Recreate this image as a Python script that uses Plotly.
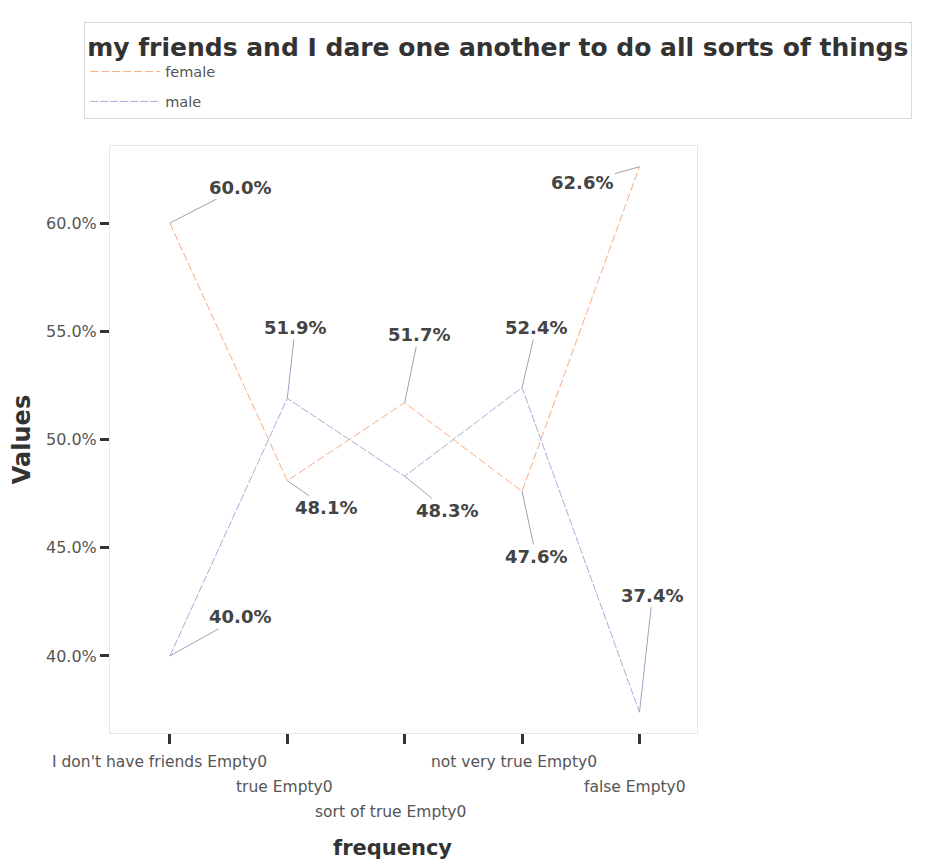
import plotly.graph_objects as go

categories = ["I don't have friends Empty0", "true Empty0", "sort of true Empty0",
              "not very true Empty0", "false Empty0"]
female = [60.0, 48.1, 51.7, 47.6, 62.6]
male = [40.0, 51.9, 48.3, 52.4, 37.4]
y_ticks = [40, 45, 50, 55, 60]
y_tick_text = ["40.0%", "45.0%", "50.0%", "55.0%", "60.0%"]

# label offsets (pixels) for each point annotation
female_off = [(70, -36), (39, 27), (14, -68), (14, 65), (-57, 16)]
male_off = [(70, -39), (8, -71), (42, 34), (14, -60), (13, -117)]
# staggered category label rows and small horizontal nudges
tick_level = [0, 1, 2, 0, 1]
tick_nudge = [-10, -3, -14, -8, -4]

FONT = "DejaVu Sans, Verdana, sans-serif"
fc = "#f5ad82"
mc = "#a3afdc"

x = list(range(len(categories)))
fig = go.Figure()
fig.add_trace(go.Scatter(x=x, y=female, mode="lines", name="female", legendgroup="f",
                         line=dict(color=fc, width=1, dash="8px,3px")))
fig.add_trace(go.Scatter(x=x, y=male, mode="lines", name="male", legendgroup="m",
                         line=dict(color=mc, width=1, dash="8px,2px")))

anns = []
for vals, offs, col in ((female, female_off, "#9aa0ad"), (male, male_off, "#9aa3bd")):
    for i, (v, (ax, ay)) in enumerate(zip(vals, offs)):
        anns.append(dict(x=i, y=v, xref="x", yref="y", text=f"{v:.1f}%",
                         showarrow=True, arrowhead=0, arrowwidth=1, arrowcolor=col,
                         ax=ax, ay=ay, standoff=0,
                         font=dict(family=FONT, size=18, color="#444444", weight="bold")))
for i, (c, lvl, nx) in enumerate(zip(categories, tick_level, tick_nudge)):
    anns.append(dict(x=i, y=0, xref="x", yref="paper", text=c, showarrow=False,
                     yanchor="middle", xanchor="center", yshift=-(29 + 25 * lvl), xshift=nx,
                     font=dict(family=FONT, size=15.5, color="#555555")))
anns.append(dict(x=0.5, y=0, xref="paper", yref="paper", text="frequency", showarrow=False,
                 yanchor="middle", yshift=-115, xshift=-11,
                 font=dict(family=FONT, size=21, color="#333333", weight="bold")))

fig.update_layout(
    width=920, height=858,
    margin=dict(l=102, r=231, t=138, b=133, autoexpand=False),
    paper_bgcolor="white", plot_bgcolor="white",
    font=dict(family=FONT, color="#555555"),
    showlegend=True,
    legend=dict(
        title=dict(text="my friends and I dare one another to do all sorts of things",
                   side="top",
                   font=dict(family=FONT, size=25, color="#333333", weight="bold")),
        x=-0.044, y=1.211, xanchor="left", yanchor="top",
        bordercolor="#d9d9d9", borderwidth=1, bgcolor="white",
        font=dict(family=FONT, size=14.5, color="#555555"),
        tracegroupgap=8, itemwidth=70, traceorder="grouped",
    ),
    annotations=anns,
    xaxis=dict(range=[-0.51, 4.49], tickvals=x, ticktext=[""] * len(x),
               showticklabels=False, automargin=False,
               ticks="outside", ticklen=10, tickwidth=3, tickcolor="#333333",
               showline=True, mirror=True, linecolor="#e8e8e8", linewidth=1,
               showgrid=False, zeroline=False),
    yaxis=dict(range=[36.44, 63.56], tickvals=y_ticks, ticktext=y_tick_text,
               automargin=False,
               ticks="outside", ticklen=9, tickwidth=3, tickcolor="#333333",
               tickfont=dict(family=FONT, size=16, color="#555555"),
               showline=True, mirror=True, linecolor="#e8e8e8", linewidth=1,
               showgrid=False, zeroline=False,
               title=dict(text="Values", standoff=10,
                          font=dict(family=FONT, size=24, color="#333333", weight="bold"))),
)

fig.write_html("out.html")
